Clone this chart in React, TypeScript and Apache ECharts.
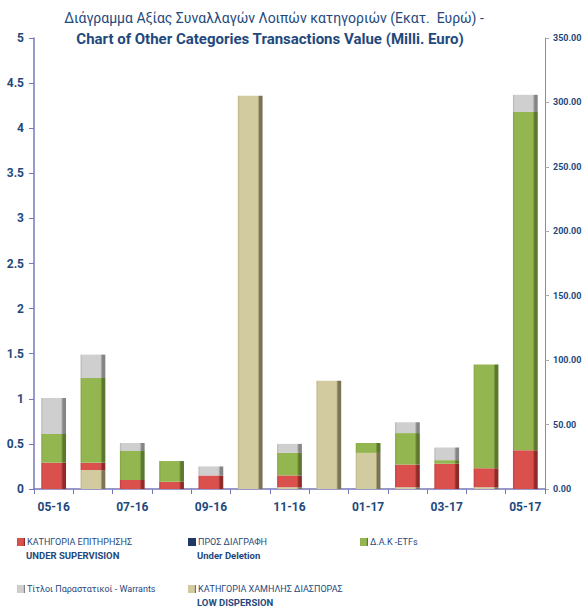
import React, { useEffect, useRef } from "react";
import * as echarts from "echarts";

const categories = ["05-16", "06-16", "07-16", "08-16", "09-16", "10-16", "11-16", "12-16", "01-17", "02-17", "03-17", "04-17", "05-17"];
const lowDispersion = [0, 0.21, 0, 0, 0, 4.36, 0.02, 1.2, 0.4, 0.02, 0, 0.02, 0];
const underSupervision = [0.29, 0.08, 0.1, 0.08, 0.15, 0, 0.13, 0, 0, 0.25, 0.28, 0.21, 0.43];
const underDeletion = [0, 0, 0, 0, 0, 0, 0, 0, 0, 0, 0, 0, 0];
const etfs = [0.32, 0.94, 0.32, 0.23, 0, 0, 0.25, 0, 0.11, 0.35, 0.04, 1.15, 3.75];
const warrants = [0.4, 0.26, 0.09, 0, 0.1, 0, 0.1, 0, 0, 0.12, 0.14, 0, 0.19];
const rightTicks = { min: 0, max: 350, interval: 50 };

const TITLE_1 = "Διάγραμμα Αξίας Συναλλαγών Λοιπών κατηγοριών (Εκατ.  Ευρώ) -";
const TITLE_2 = "Chart of Other Categories Transactions Value (Milli. Euro)";

const N_SUP = "ΚΑΤΗΓΟΡΙΑ ΕΠΙΤΗΡΗΣΗΣ\nUNDER SUPERVISION";
const N_DEL = "ΠΡΟΣ ΔΙΑΓΡΑΦΗ\nUnder Deletion";
const N_ETF = "Δ.Α.Κ -ETFs";
const N_WAR = "Τίτλοι Παραστατικοί - Warrants";
const N_LOW = "ΚΑΤΗΓΟΡΙΑ ΧΑΜΗΛΗΣ ΔΙΑΣΠΟΡΑΣ\nLOW DISPERSION";

const NAVY = "#1f497d";
const FONT = "'Roboto', 'Liberation Sans', sans-serif";

function grad(light: string, mid: string, dark: string) {
  return new echarts.graphic.LinearGradient(0, 0, 1, 0, [
    { offset: 0, color: light },
    { offset: 0.08, color: mid },
    { offset: 0.8, color: mid },
    { offset: 0.88, color: dark },
    { offset: 1, color: dark },
  ]);
}

export default function App() {
  const ref = useRef<HTMLDivElement>(null);
  useEffect(() => {
    if (!ref.current) return;
    const chart = echarts.init(ref.current, undefined, { renderer: "svg" });
    const mk = (name: string, data: number[], color: any, legendColor: string) => ({
      name,
      type: "bar",
      stack: "total",
      data,
      barWidth: "63%",
      yAxisIndex: 0,
      itemStyle: { color },
      color: legendColor,
    });
    const legendItem = (name: string, left: number, top: number) => ({
      data: [name],
      left,
      top,
      orient: "vertical",
      itemWidth: 8,
      itemHeight: 8,
      itemGap: 0,
      icon: "rect",
      padding: 0,
      formatter: (n: string) => n.split("\n")[0],
      textStyle: {
        color: NAVY,
        fontSize: 9,
        fontFamily: FONT,
        lineHeight: 12,
        padding: [0, 0, 0, -3],
      },
    });
    const text = (t: string, x: number, y: number, font: string, align = "left") => ({
      type: "text",
      x,
      y,
      style: {
        text: t,
        fill: NAVY,
        font,
        textAlign: align,
        textVerticalAlign: "middle",
      },
    });
    chart.setOption({
      animation: false,
      backgroundColor: "#ffffff",
      legend: [
        legendItem(N_SUP, 17, 536),
        legendItem(N_DEL, 188, 536),
        legendItem(N_ETF, 360, 536),
        legendItem(N_WAR, 17, 583),
        legendItem(N_LOW, 188, 583),
      ],
      graphic: [
        text(TITLE_1, 274, 18, `14px ${FONT}`, "center"),
        text(TITLE_2, 270, 39, `bold 15px ${FONT}`, "center"),
        text("UNDER SUPERVISION", 26, 555, `bold 9.5px ${FONT}`),
        text("Under Deletion", 197, 555, `bold 9.5px ${FONT}`),
        text("LOW DISPERSION", 197, 602, `bold 9.5px ${FONT}`),
      ],
      grid: { left: 34, right: 43, top: 38, bottom: 118 },
      xAxis: {
        type: "category",
        data: categories,
        boundaryGap: true,
        axisLine: { lineStyle: { color: "#7878b8", width: 1.5 } },
        axisTick: { show: true, interval: 0, length: 5, lineStyle: { color: "#7878b8" } },
        axisLabel: {
          interval: 1,
          color: NAVY,
          fontSize: 12,
          fontWeight: "bold",
          fontFamily: FONT,
          margin: 12,
        },
      },
      yAxis: [
        {
          type: "value",
          min: 0,
          max: 5,
          interval: 0.5,
          position: "left",
          axisLine: { show: true, lineStyle: { color: "#7878b8", width: 1.5 } },
          axisTick: { show: true, length: 5, lineStyle: { color: "#7878b8" } },
          splitLine: { show: false },
          axisLabel: { color: NAVY, fontSize: 12, fontWeight: "bold", fontFamily: FONT, margin: 10 },
        },
        {
          type: "value",
          min: rightTicks.min,
          max: rightTicks.max,
          interval: rightTicks.interval,
          position: "right",
          axisLine: { show: true, lineStyle: { color: "#8c8c8c", width: 1 } },
          axisTick: { show: true, length: 4, lineStyle: { color: "#aaaaaa" } },
          splitLine: { show: false },
          axisLabel: {
            color: NAVY,
            fontSize: 9,
            fontWeight: "bold",
            fontFamily: FONT,
            margin: 8,
            formatter: (v: number) => v.toFixed(2),
          },
        },
      ],
      series: [
        mk(N_LOW, lowDispersion, grad("#bdb58a", "#d2cb9f", "#7a7356"), "#c8bf90"),
        mk(N_SUP, underSupervision, grad("#c2403d", "#d9504d", "#8e2b29"), "#c0504d"),
        mk(N_DEL, underDeletion, "#1f3864", "#1f3864"),
        mk(N_ETF, etfs, grad("#84a543", "#93b651", "#5b782c"), "#8aae4a"),
        mk(N_WAR, warrants, grad("#b5b5b5", "#cfcfcf", "#858585"), "#a6a6a6"),
      ],
    });
    return () => chart.dispose();
  }, []);
  return <div ref={ref} style={{ width: 588, height: 607, position: "absolute", left: 0, top: 0 }} />;
}
